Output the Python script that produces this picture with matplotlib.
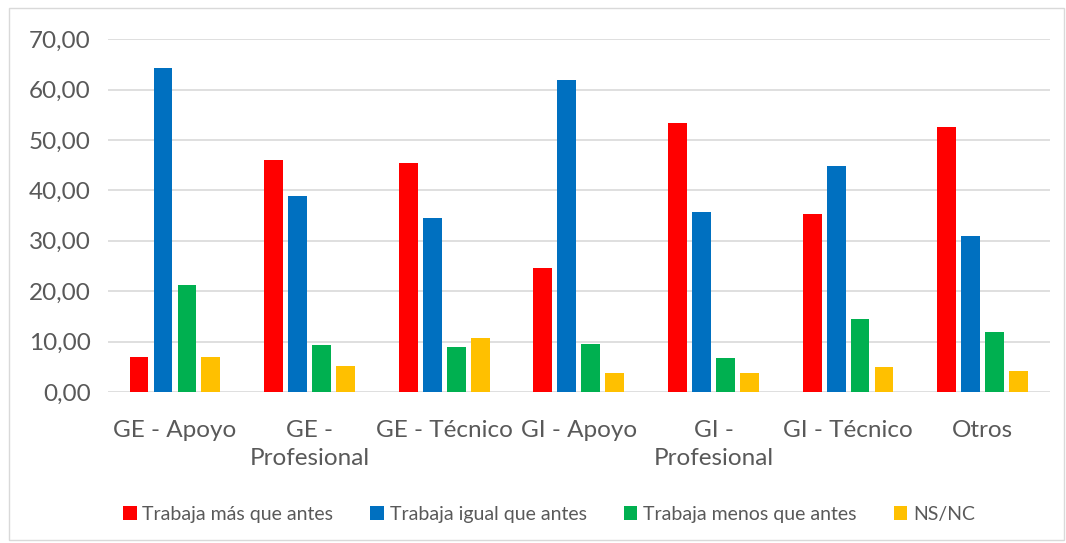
import matplotlib.pyplot as plt
import numpy as np
from matplotlib.patches import Rectangle

categorias = ['GE - Apoyo', 'GE -\nProfesional', 'GE - Técnico', 'GI - Apoyo',
              'GI -\nProfesional', 'GI - Técnico', 'Otros']
series = ['Trabaja más que antes', 'Trabaja igual que antes',
          'Trabaja menos que antes', 'NS/NC']
mas = [7.0, 46.1, 45.4, 24.7, 53.4, 35.4, 52.6]
igual = [64.3, 38.9, 34.5, 61.9, 35.7, 44.9, 31.0]
menos = [21.2, 9.3, 8.9, 9.5, 6.8, 14.5, 12.0]
nsnc = [7.0, 5.2, 10.8, 3.8, 3.8, 5.0, 4.2]
colores = ['#FF0000', '#0070C0', '#00B050', '#FFC000']

plt.rcParams['font.family'] = ['Lato', 'DejaVu Sans']

fig = plt.figure(figsize=(10.66, 5.43), dpi=100)
ax = fig.add_axes([0.101, 0.278, 0.884, 0.650])

x = np.arange(len(categorias))
paso = 0.178
ancho = 0.14
for i, (vals, nombre) in enumerate(zip([mas, igual, menos, nsnc], series)):
    ax.bar(x + (i - 1.5) * paso, vals, width=ancho, color=colores[i], label=nombre, zorder=3)

ax.set_xlim(-0.5, len(categorias) - 0.5)
ax.set_ylim(0, 70)
ax.set_yticks(range(0, 71, 10))
ax.set_yticklabels([f'{v},00' for v in range(0, 71, 10)])
ax.set_xticks(x)
ax.set_xticklabels(categorias, linespacing=1.45)
ax.tick_params(axis='both', length=0, labelsize=17.5, labelcolor='#595959')
ax.tick_params(axis='x', pad=20)
ax.tick_params(axis='y', pad=12)
ax.grid(axis='y', color='#D9D9D9', lw=1.2, zorder=0)
for s in ax.spines.values():
    s.set_visible(False)

fig.legend(loc='center', bbox_to_anchor=(0.515, 0.053), ncol=4, frameon=False,
           fontsize=14, labelcolor='#595959', handlelength=0.7, handleheight=0.7,
           handletextpad=0.3, columnspacing=1.9)

fig.patches.append(Rectangle((0.008, 0.005), 0.99, 0.98, transform=fig.transFigure,
                             fill=False, edgecolor='#D9D9D9', lw=1))

fig.savefig('out.png', dpi=100)
